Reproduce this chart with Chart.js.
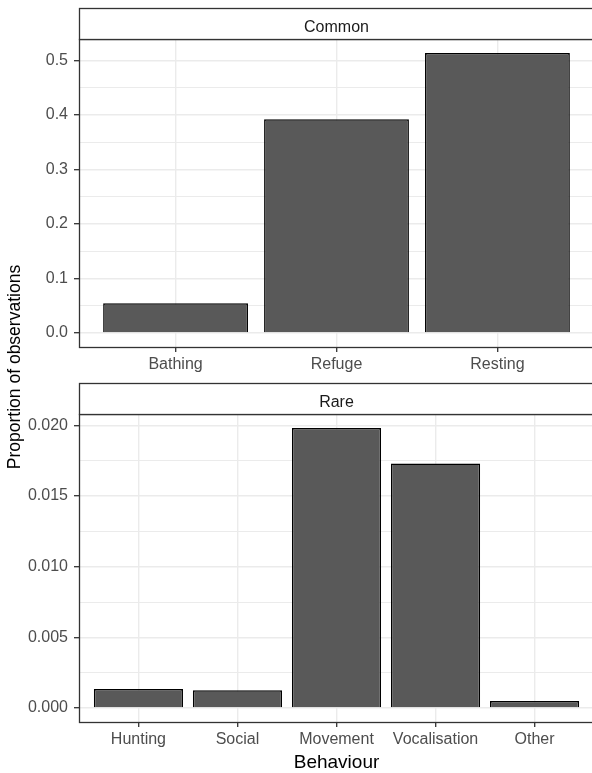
<!DOCTYPE html>
<html>
<head>
<meta charset="utf-8">
<title>Proportion of observations by behaviour</title>
<script src="https://cdn.jsdelivr.net/npm/chart.js@4/dist/chart.umd.min.js"></script>
<style>
  html, body { margin: 0; padding: 0; background: #ffffff; }
  #wrap { position: relative; width: 592px; height: 773px; overflow: hidden; background: #ffffff; }
  #wrap canvas { position: absolute; left: 0; }
  #panelCommon { top: 0; }
  #panelRare { top: 375px; }
  .axis-title {
    position: absolute;
    font-family: "Liberation Sans", Arial, sans-serif;
    color: #000000;
    white-space: nowrap;
    text-align: center;
  }
  #xTitle { left: 136.5px; width: 400px; top: 752px; font-size: 19px; line-height: 19px; }
  #yTitle { left: -186px; width: 400px; top: 357.5px; font-size: 17.5px; line-height: 18px; transform: rotate(-90deg); }
</style>
</head>
<body>
<div id="wrap">
  <canvas id="panelCommon" width="600" height="380"></canvas>
  <canvas id="panelRare" width="600" height="398"></canvas>
  <div class="axis-title" id="yTitle">Proportion of observations</div>
  <div class="axis-title" id="xTitle">Behaviour</div>
</div>
<script>
// ---- data ----
const commonCategories = ['Bathing', 'Refuge', 'Resting'];
const commonValues = [0.0544, 0.392, 0.5134];
const commonTickValues = [0.0, 0.1, 0.2, 0.3, 0.4, 0.5];
const commonTickLabels = ['0.0', '0.1', '0.2', '0.3', '0.4', '0.5'];

const rareCategories = ['Hunting', 'Social', 'Movement', 'Vocalisation', 'Other'];
const rareValues = [0.00135, 0.00126, 0.01982, 0.01731, 0.0005];
const rareTickValues = [0.000, 0.005, 0.010, 0.015, 0.020];
const rareTickLabels = ['0.000', '0.005', '0.010', '0.015', '0.020'];

const facetTitles = ['Common', 'Rare'];

// ---- styling ----
const FONT = '"Liberation Sans", Arial, sans-serif';
const GRID = '#ebebeb';
const INK = '#333333';
const EXPAND = 0.05;          // 5% padding above the tallest bar and below zero
const STRIP_H = 31;
const AREA_TOP = 39;
const AREA_BOTTOM = 347;

// major ticks from the arrays plus a minor line half way between each pair
function yTicks(values, labels) {
  const out = [];
  values.forEach((v, i) => {
    out.push({ value: v, text: labels[i] });
    if (i < values.length - 1) out.push({ value: (v + values[i + 1]) / 2, text: '', minor: true });
  });
  return out;
}

const facetFrame = {
  id: 'facetFrame',
  afterDatasetsDraw(chart, args, opts) {
    const { ctx, chartArea: a } = chart;
    const w = a.right - a.left;
    ctx.save();
    ctx.lineWidth = 1.3;
    ctx.strokeStyle = INK;
    ctx.strokeRect(a.left + 0.5, a.top + 0.5, w, a.bottom - a.top);
    ctx.fillStyle = '#ffffff';
    ctx.fillRect(a.left + 0.5, a.top - STRIP_H + 0.5, w, STRIP_H);
    ctx.strokeRect(a.left + 0.5, a.top - STRIP_H + 0.5, w, STRIP_H);
    ctx.fillStyle = '#1a1a1a';
    ctx.font = '16px ' + FONT;
    ctx.textAlign = 'center';
    ctx.textBaseline = 'alphabetic';
    ctx.fillText(opts.text, (a.left + a.right) / 2, a.top - STRIP_H + 23.5);
    ctx.restore();
  }
};

function facetChart(canvasId, title, categories, values, tickValues, tickLabels) {
  const canvas = document.getElementById(canvasId);
  const H = canvas.height;
  const top = Math.max(...values);
  return new Chart(canvas, {
    type: 'bar',
    data: {
      datasets: [{
        data: values.map((v, i) => ({ x: i + 1, y: v })),
        backgroundColor: '#595959',
        borderColor: '#000000',
        borderWidth: 1.5,
        barPercentage: 0.9,
        categoryPercentage: 1.0
      }]
    },
    options: {
      responsive: false,
      animation: false,
      devicePixelRatio: 1,
      layout: { padding: { top: AREA_TOP, left: 0, right: 6, bottom: 0 } },
      plugins: {
        legend: { display: false },
        tooltip: { enabled: false },
        facetFrame: { text: title }
      },
      scales: {
        x: {
          type: 'linear',
          min: 0.4,
          max: categories.length + 0.6,
          bounds: 'data',
          offset: false,
          afterBuildTicks(scale) {
            scale.ticks = categories.map((c, i) => ({ value: i + 1, text: c }));
          },
          afterFit(scale) { scale.height = H - AREA_BOTTOM; },
          ticks: {
            autoSkip: false,
            maxRotation: 0,
            padding: 3,
            color: '#4d4d4d',
            font: { family: FONT, size: 16 },
            callback: (v, i, t) => t[i].text
          },
          grid: {
            offset: false,
            color: GRID,
            lineWidth: 1.4,
            tickLength: 5,
            tickColor: INK,
            tickWidth: 1.3
          },
          border: { display: false }
        },
        y: {
          type: 'linear',
          min: -EXPAND * top,
          max: (1 + EXPAND) * top,
          bounds: 'data',
          afterBuildTicks(scale) { scale.ticks = yTicks(tickValues, tickLabels); },
          afterFit(scale) { scale.width = 79; },
          ticks: {
            autoSkip: false,
            padding: 6,
            color: '#4d4d4d',
            font: { family: FONT, size: 16 },
            callback: (v, i, t) => t[i].text
          },
          grid: {
            color: GRID,
            lineWidth: c => (c.tick && c.tick.minor ? 1.0 : 1.4),
            tickLength: 5,
            tickColor: c => (c.tick && c.tick.minor ? 'rgba(0,0,0,0)' : INK),
            tickWidth: 1.3
          },
          border: { display: false }
        }
      }
    },
    plugins: [facetFrame]
  });
}

facetChart('panelCommon', facetTitles[0], commonCategories, commonValues, commonTickValues, commonTickLabels);
facetChart('panelRare', facetTitles[1], rareCategories, rareValues, rareTickValues, rareTickLabels);
</script>
</body>
</html>
